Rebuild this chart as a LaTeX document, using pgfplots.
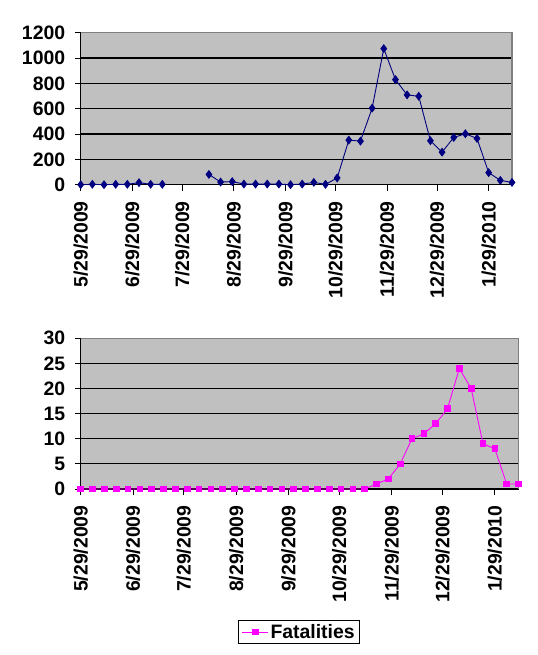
\documentclass[border=0pt]{standalone}
\usepackage{pgfplots}
\pgfplotsset{compat=1.18}
\usepackage{fontspec}
\setmainfont{Liberation Sans}
\definecolor{navyc}{HTML}{000080}
\definecolor{magc}{HTML}{FF00FF}
\definecolor{bgc}{HTML}{C0C0C0}
\definecolor{brd}{HTML}{808080}
\newcommand{\tf}{\fontsize{19.5}{21}\selectfont\bfseries}
\pgfplotsset{
  chartstyle/.style={
    anchor=south west,
    scale only axis,
    axis lines=left,
    axis line style={-, black, line width=1pt},
    axis background/.style={fill=bgc},
    tick align=outside,
    major tick length=6bp,
    tick style={black, line width=1pt},
    ymajorgrids,
    major grid style={black, line width=1.2pt},
    xmin=0, xmax=259,
    xtick={0,31,61,92,123,153,184,214,245},
    xticklabels={5/29/2009,6/29/2009,7/29/2009,8/29/2009,9/29/2009,10/29/2009,11/29/2009,12/29/2009,1/29/2010},
    xticklabel style={rotate=90, anchor=east, font=\tf},
    xticklabel shift=7bp,
    yticklabel style={font=\tf},
    yticklabel shift=6bp,
    /pgf/number format/assume math mode=true,
    /pgf/number format/1000 sep={},
    clip=false,
  }
}
\begin{document}
\begin{tikzpicture}
\useasboundingbox (0bp,0bp) rectangle (538bp,655bp);
% top axis
\begin{axis}[chartstyle,
  at={(80.7bp,470.3bp)},
  width=431.3bp, height=152bp,
  ymin=0, ymax=1200,
  ytick={0,200,400,600,800,1000,1200},
  unbounded coords=jump,
]
\addplot[navyc, line width=0.9pt, mark=diamond*, mark size=3.8, mark options={fill=navyc, draw=navyc}] coordinates {
(0,0) (7,3) (14,0) (21,3) (28,3) (35,16) (42,3) (49,3) (56,nan)
(77,81) (84,21) (91,24) (98,5) (105,5) (112,5) (119,5) (126,0) (133,5) (140,18) (147,3)
(154,53) (161,352) (168,344) (175,604) (182,1074) (189,830) (196,709) (203,698) (210,347)
(217,257) (224,373) (231,402) (238,365) (245,95) (252,34) (259,18)
};
\draw[brd, line width=1.2pt] (rel axis cs:0,1) -- (rel axis cs:1,1) -- (rel axis cs:1,0);
\end{axis}
% bottom axis
\begin{axis}[chartstyle,
  at={(80.7bp,166bp)},
  width=437.8bp, height=150.7bp,
  ymin=0, ymax=30,
  ytick={0,5,10,15,20,25,30},
  legend style={at={(0.499,-0.949)}, anchor=center, draw=black, line width=1pt, fill=white, font=\tf, inner xsep=3bp, inner ysep=1.5bp},
  legend image code/.code={\draw[#1, mark repeat=2, mark phase=2] plot coordinates {(0bp,0bp) (13bp,0bp) (26bp,0bp)};},
]
\addplot[magc, line width=0.9pt, mark=square*, mark size=2.9, mark options={fill=magc, draw=magc}] coordinates {
(0,0) (7,0) (14,0) (21,0) (28,0) (35,0) (42,0) (49,0) (56,0) (63,0) (70,0) (77,0) (84,0)
(91,0) (98,0) (105,0) (112,0) (119,0) (126,0) (133,0) (140,0) (147,0) (154,0) (161,0) (168,0)
(175,1) (182,2) (189,5) (196,10) (203,11) (210,13) (217,16) (224,24) (231,20) (238,9) (245,8) (252,1) (259,1)
};
\addlegendentry{Fatalities}
\draw[brd, line width=1.2pt] (rel axis cs:0,1) -- (rel axis cs:1,1) -- (rel axis cs:1,0);
\end{axis}
\end{tikzpicture}
\end{document}
